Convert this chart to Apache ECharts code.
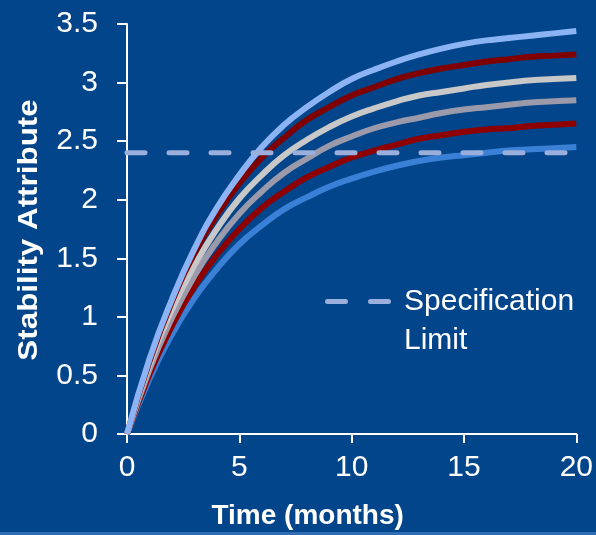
<!DOCTYPE html>
<html>
<head>
<meta charset="utf-8">
<script src="https://cdn.jsdelivr.net/npm/echarts@6/dist/echarts.min.js"></script>
<style>
  html, body { margin: 0; padding: 0; background: #03458a; }
  #chart { width: 596px; height: 535px; }
</style>
</head>
<body>
<div id="chart"></div>
<script>
// Time points in months
const months = [0,1,2,3,4,5,6,7,8,9,10,11,12,13,14,15,16,17,18,19,20];

// Stability attribute per batch, top curve to bottom curve
const batch1 = [0,0.64,1.15,1.58,1.93,2.21,2.45,2.64,2.79,2.92,3.03,3.11,3.18,3.24,3.29,3.33,3.36,3.38,3.40,3.42,3.44];
const batch2 = [0,0.62,1.13,1.54,1.87,2.14,2.36,2.53,2.68,2.79,2.89,2.96,3.03,3.08,3.12,3.15,3.18,3.20,3.22,3.23,3.24];
const batch3 = [0,0.59,1.06,1.44,1.75,2.01,2.21,2.38,2.51,2.62,2.71,2.78,2.84,2.89,2.92,2.95,2.98,3.00,3.02,3.03,3.04];
const batch4 = [0,0.55,0.99,1.35,1.64,1.88,2.07,2.23,2.35,2.46,2.54,2.61,2.66,2.70,2.74,2.77,2.79,2.81,2.83,2.84,2.85];
const batch5 = [0,0.51,0.92,1.26,1.53,1.75,1.93,2.07,2.19,2.28,2.36,2.42,2.47,2.52,2.55,2.58,2.60,2.61,2.63,2.64,2.65];
const batch6 = [0,0.47,0.85,1.16,1.41,1.62,1.78,1.92,2.02,2.11,2.18,2.24,2.29,2.33,2.36,2.38,2.40,2.42,2.43,2.44,2.45];

// Specification limit
const specLimit = 2.4;
const specRange = [0, 20];

const batchNames = ['Batch 1','Batch 2','Batch 3','Batch 4','Batch 5','Batch 6'];
const batchData = [batch1, batch2, batch3, batch4, batch5, batch6];
const batchColors = ['#8cb4f5','#800000','#c8c8c8','#9a9aaa','#8e0000','#3a80d6'];

const font = '"Liberation Sans", Arial, sans-serif';
const specColor = '#9aafdb';

// Two rounded dashes for the legend swatch
const dashIcon = 'path://M2.5,0H20.5A2.5,2.5,0,0,1,20.5,5H2.5A2.5,2.5,0,0,1,2.5,0Z' +
                 'M45.5,0H63.5A2.5,2.5,0,0,1,63.5,5H45.5A2.5,2.5,0,0,1,45.5,0Z';

// Draw the lowest curve first so the upper curves sit on top
const curveSeries = batchData.map((vals, i) => ({
  name: batchNames[i],
  type: 'line',
  data: months.map((t, j) => [t, vals[j]]),
  smooth: true,
  symbol: 'none',
  z: 2 + (batchData.length - i),
  itemStyle: { color: batchColors[i] },
  lineStyle: { color: batchColors[i], width: 6, cap: 'butt' },
  emphasis: { disabled: true }
})).reverse();

const chart = echarts.init(document.getElementById('chart'), null, { renderer: 'canvas' });

chart.setOption({
  backgroundColor: '#03458a',
  animation: false,
  grid: { left: 127, right: 17, top: 24, bottom: 99 },
  legend: {
    data: [{ name: 'Specification Limit', icon: dashIcon, itemStyle: { color: specColor, borderWidth: 0 } }],
    left: 325,
    top: 243,
    padding: 0,
    itemWidth: 66,
    itemHeight: 5,
    itemGap: 0,
    formatter: () => ' \nSpecification\nLimit',
    textStyle: {
      color: '#ffffff',
      fontFamily: font,
      fontSize: 30,
      lineHeight: 39,
      padding: [0, 0, 0, 8]
    },
    selectedMode: false
  },
  xAxis: {
    type: 'value',
    min: 0,
    max: 20,
    interval: 5,
    name: 'Time (months)',
    nameLocation: 'middle',
    nameGap: 68,
    nameTextStyle: {
      color: '#ffffff',
      fontFamily: font,
      fontSize: 28,
      fontWeight: 'bold',
      padding: [0, 88, 0, 0]
    },
    axisLine: { show: true, lineStyle: { color: '#ffffff', width: 2 } },
    axisTick: { show: true, length: 9, lineStyle: { color: '#ffffff', width: 2 } },
    axisLabel: { color: '#ffffff', fontFamily: font, fontSize: 30, margin: 19 },
    splitLine: { show: false }
  },
  yAxis: {
    type: 'value',
    min: 0,
    max: 3.5,
    interval: 0.5,
    axisLine: { show: true, lineStyle: { color: '#ffffff', width: 2 } },
    axisTick: { show: true, length: 10, lineStyle: { color: '#ffffff', width: 2 } },
    axisLabel: { color: '#ffffff', fontFamily: font, fontSize: 30, margin: 29 },
    splitLine: { show: false }
  },
  series: curveSeries.concat([{
    name: 'Specification Limit',
    type: 'line',
    data: specRange.map(t => [t, specLimit]),
    symbol: 'none',
    z: 20,
    itemStyle: { color: specColor },
    lineStyle: { color: specColor, width: 5, type: [18, 24], cap: 'round' },
    emphasis: { disabled: true }
  }]),
  graphic: [{
    // y-axis title, slightly stretched along its length
    type: 'text',
    x: 29,
    y: 230,
    rotation: Math.PI / 2,
    scaleX: 1.12,
    silent: true,
    style: {
      text: 'Stability Attribute',
      fill: '#ffffff',
      font: 'bold 28px ' + font,
      align: 'center',
      verticalAlign: 'middle'
    }
  }, {
    type: 'rect',
    left: 0,
    bottom: 0,
    shape: { width: 596, height: 3 },
    style: { fill: '#2f6db5' },
    silent: true
  }]
});
</script>
</body>
</html>
